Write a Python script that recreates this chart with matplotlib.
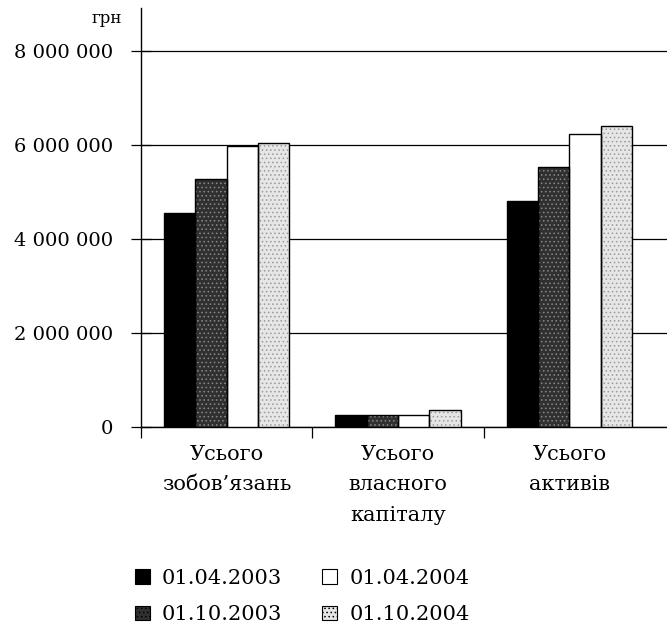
import numpy as np
import matplotlib
matplotlib.use("Agg")
import matplotlib.pyplot as plt
from matplotlib.patches import Patch
from matplotlib.ticker import FuncFormatter

plt.rcParams['font.family'] = ['DejaVu Serif']
plt.rcParams['hatch.linewidth'] = 0.6

# Balance totals, UAH
categories = ["Усього\nзобов’язань", "Усього\nвласного\nкапіталу", "Усього\nактивів"]
dates = ["01.04.2003", "01.10.2003", "01.04.2004", "01.10.2004"]
v_2003_04 = [4550000, 255000, 4810000]
v_2003_10 = [5280000, 255000, 5530000]
v_2004_04 = [5980000, 260000, 6230000]
v_2004_10 = [6040000, 360000, 6400000]
series = [v_2003_04, v_2003_10, v_2004_04, v_2004_10]

# fill, hatch, hatch colour
styles = [("black", None, "black"),
          ("#303030", "....", "#8a8a8a"),
          ("white", None, "black"),
          ("#e6e6e6", "....", "#9a9a9a")]

fig = plt.figure(figsize=(6.67, 6.29), dpi=100)
ax = fig.add_axes([0.2114, 0.3211, 0.7886, 0.6659])

x = np.arange(len(categories))
w = 0.183
for i, vals in enumerate(series):
    fc, hatch, hc = styles[i]
    pos = x + (i - 1.5) * w
    ax.bar(pos, vals, w, color=fc, hatch=hatch, edgecolor=hc, linewidth=0, zorder=3)
    ax.bar(pos, vals, w, fill=False, edgecolor="black", linewidth=1.0, zorder=4)

ax.set_xlim(-0.5, 2.57)
ax.set_ylim(0, 8915000)
ax.set_yticks([0, 2000000, 4000000, 6000000, 8000000])
ax.yaxis.set_major_formatter(FuncFormatter(lambda v, p: f"{int(v):,}".replace(",", " ")))
ax.yaxis.grid(True, color="black", linewidth=0.9, zorder=0)
ax.tick_params(axis="y", direction="inout", length=14, width=0.9, labelsize=14, pad=13)

ax.set_xticks(x)
ax.set_xticklabels(categories, fontsize=15, linespacing=1.75, va="top")
ax.tick_params(axis="x", which="major", length=0, pad=13)
ax.set_xticks([-0.5, 0.5, 1.5], minor=True)
ax.tick_params(axis="x", which="minor", direction="out", length=8, width=0.9)

for s in ["top", "right"]:
    ax.spines[s].set_visible(False)
for s in ["left", "bottom"]:
    ax.spines[s].set_linewidth(1.0)

fig.text(0.183, 0.971, "грн", fontsize=12, ha="right", va="center")

handles = []
for fc, hatch, hc in styles:
    handles.append(Patch(facecolor=fc, hatch=hatch, edgecolor="black", linewidth=0.8))
fig.legend(handles, dates, loc="upper left", bbox_to_anchor=(0.2024, 0.096), ncol=2,
           frameon=False, fontsize=15, handlelength=0.7, handleheight=0.7,
           handletextpad=0.6, columnspacing=1.9, labelspacing=0.85,
           borderpad=0, borderaxespad=0)

fig.savefig("out.png", dpi=100)
